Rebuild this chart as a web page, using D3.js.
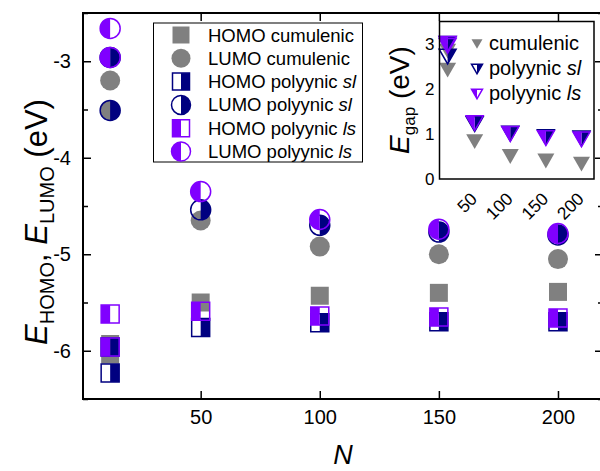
<!DOCTYPE html>
<html>
<head>
<meta charset="utf-8">
<script src="https://cdn.jsdelivr.net/npm/d3@7/dist/d3.min.js"></script>
<style>
  html, body { margin: 0; padding: 0; background: #fff; }
  svg { display: block; font-family: "Liberation Sans", Arial, Helvetica, sans-serif; }
</style>
</head>
<body>
<svg id="chart" width="600" height="471"></svg>
<script>
// Chain length N (the shortest chain has two structures, hence two entries)
const chainN = [12, 12, 50, 100, 150, 200];

// Frontier orbital energies (eV)
const homoCumulenic = [-6.04, -5.93, -5.50, -5.43, -5.40, -5.39];
const lumoCumulenic = [-3.20, -3.51, -4.65, -4.92, -5.00, -5.05];
const homoPolySl    = [-5.96, -6.23, -5.76, -5.71, -5.70, -5.70];
const lumoPolySl    = [-2.96, -3.51, -4.54, -4.70, -4.77, -4.80];
const homoPolyLs    = [-5.62, -5.96, -5.59, -5.64, -5.65, -5.66];
const lumoPolyLs    = [-2.66, -2.96, -4.35, -4.64, -4.74, -4.785];

// Band gaps (eV) for the inset
const gapCumulenic = [2.84, 2.42, 0.83, 0.50, 0.40, 0.33];
const gapPolySl    = [3.00, 2.72, 1.22, 1.01, 0.93, 0.90];
const gapPolyLs    = [2.96, 3.00, 1.24, 1.00, 0.91, 0.88];

// Axis ticks
const xTicks = [50, 100, 150, 200];
const yTicks = [-6, -5, -4, -3];
const yMinorTicks = [-6.5, -5.5, -4.5, -3.5, -2.5];
const insetYTicks = [0, 1, 2, 3];

// Legend labels
const mainLegend = [
  ["HOMO cumulenic", null],
  ["LUMO cumulenic", null],
  ["HOMO polyynic ", "sl"],
  ["LUMO polyynic ", "sl"],
  ["HOMO polyynic ", "ls"],
  ["LUMO polyynic ", "ls"]
];
const insetLegend = [
  ["cumulenic", null],
  ["polyynic ", "sl"],
  ["polyynic ", "ls"]
];

const GRAY = "#808080", NAVY = "#000080", VIOLET = "#8000ff";
const svg = d3.select("#chart");

// ---------- main plot scales ----------
const x = d3.scaleLinear().domain([0.6, 218.9]).range([83, 603]);
const y = d3.scaleLinear().domain([-6.5, -2.5]).range([399, 13]);

// marker painters
function squarePath(cx, cy, s) {
  return `M${cx - s/2},${cy - s/2}h${s}v${s}h${-s}Z`;
}
function halfSquarePath(cx, cy, s, side) {
  return side === "left"
    ? `M${cx - s/2},${cy - s/2}h${s/2}v${s}h${-s/2}Z`
    : `M${cx},${cy - s/2}h${s/2}v${s}h${-s/2}Z`;
}
function circlePath(cx, cy, r) {
  return `M${cx},${cy - r}A${r},${r} 0 1 1 ${cx},${cy + r}A${r},${r} 0 1 1 ${cx},${cy - r}Z`;
}
function halfCirclePath(cx, cy, r, side) {
  const sweep = side === "left" ? 0 : 1;
  return `M${cx},${cy - r}A${r},${r} 0 0 ${sweep} ${cx},${cy + r}Z`;
}
function triPath(cx, cy, w, h) {
  return `M${cx - w/2},${cy - h/2}L${cx + w/2},${cy - h/2}L${cx},${cy + h/2}Z`;
}
function halfTriPath(cx, cy, w, h, side) {
  return side === "left"
    ? `M${cx - w/2},${cy - h/2}L${cx},${cy - h/2}L${cx},${cy + h/2}Z`
    : `M${cx},${cy - h/2}L${cx + w/2},${cy - h/2}L${cx},${cy + h/2}Z`;
}

function drawMarker(g, shape, cx, cy, size, color, half) {
  let full, part;
  if (shape === "square") {
    full = squarePath(cx, cy, size);
    part = half ? halfSquarePath(cx, cy, size, half) : null;
  } else if (shape === "circle") {
    full = circlePath(cx, cy, size / 2);
    part = half ? halfCirclePath(cx, cy, size / 2, half) : null;
  } else {
    full = triPath(cx, cy, size, size * 0.87);
    part = half ? halfTriPath(cx, cy, size, size * 0.87, half) : null;
  }
  if (!half) {
    g.append("path").attr("d", full).attr("fill", color);
  } else {
    g.append("path").attr("d", part).attr("fill", color);
    g.append("path").attr("d", full).attr("fill", "none")
      .attr("stroke", color).attr("stroke-width", 1.5);
  }
}

// ---------- main plot ----------
const plot = svg.append("g");

const mainSeries = [
  { values: lumoCumulenic, shape: "circle", color: GRAY,   half: null },
  { values: homoCumulenic, shape: "square", color: GRAY,   half: null },
  { values: homoPolySl,    shape: "square", color: NAVY,   half: "right" },
  { values: lumoPolySl,    shape: "circle", color: NAVY,   half: "right" },
  { values: homoPolyLs,    shape: "square", color: VIOLET, half: "left" },
  { values: lumoPolyLs,    shape: "circle", color: VIOLET, half: "left" }
];
mainSeries.forEach(s => {
  const g = plot.append("g");
  s.values.forEach((v, i) => {
    drawMarker(g, s.shape, x(chainN[i]), y(v), s.shape === "circle" ? 20 : 18, s.color, s.half);
  });
});

// axes (ticks pointing inward)
const axisStyle = sel => {
  sel.select(".domain").remove();
  sel.selectAll(".tick line").attr("stroke", "#000").attr("stroke-width", 1.5);
  sel.selectAll(".tick text").attr("fill", "#000").attr("font-size", 20)
    .attr("font-family", "\"Liberation Sans\", Arial, sans-serif");
};
svg.append("g").attr("transform", "translate(0,399)")
  .call(d3.axisBottom(x).tickValues(xTicks).tickSize(-8).tickPadding(11).tickFormat(d3.format("d")))
  .call(axisStyle);
svg.append("g").attr("transform", "translate(0,13)")
  .call(d3.axisTop(x).tickValues(xTicks).tickSize(-8).tickFormat(""))
  .call(axisStyle);
svg.append("g").attr("transform", "translate(83,0)")
  .call(d3.axisLeft(y).tickValues(yTicks).tickSize(-8).tickPadding(12).tickFormat(d => String(d)))
  .call(axisStyle);
svg.append("g").attr("transform", "translate(83,0)")
  .call(d3.axisLeft(y).tickValues(yMinorTicks).tickSize(-5).tickFormat(""))
  .call(axisStyle);
svg.append("g").attr("transform", "translate(603,0)")
  .call(d3.axisRight(y).tickValues(yTicks).tickSize(-8).tickFormat(""))
  .call(axisStyle);
svg.append("g").attr("transform", "translate(603,0)")
  .call(d3.axisRight(y).tickValues(yMinorTicks).tickSize(-5).tickFormat(""))
  .call(axisStyle);

// frame
svg.append("rect").attr("x", 83).attr("y", 13).attr("width", 520).attr("height", 386)
  .attr("fill", "none").attr("stroke", "#000").attr("stroke-width", 2);

// axis titles
const yTitle = svg.append("text")
  .attr("transform", "translate(47,222) rotate(-90)")
  .attr("text-anchor", "middle").attr("font-size", 31).attr("fill", "#000");
yTitle.append("tspan").attr("font-style", "italic").text("E");
yTitle.append("tspan").attr("font-size", 20).attr("dy", 7).text("HOMO");
yTitle.append("tspan").attr("dy", -7).text(", ");
yTitle.append("tspan").attr("font-style", "italic").text("E");
yTitle.append("tspan").attr("font-size", 20).attr("dy", 7).text("LUMO");
yTitle.append("tspan").attr("dy", -7).text(" (eV)");

svg.append("text").attr("x", 343).attr("y", 464).attr("text-anchor", "middle")
  .attr("font-size", 27).attr("font-style", "italic").attr("fill", "#000").text("N");

// ---------- main legend ----------
const legend = svg.append("g");
legend.append("rect").attr("x", 153.5).attr("y", 23).attr("width", 209).attr("height", 139)
  .attr("fill", "#fff").attr("stroke", "#000").attr("stroke-width", 1);
const legendStyles = [
  { shape: "square", color: GRAY,   half: null },
  { shape: "circle", color: GRAY,   half: null },
  { shape: "square", color: NAVY,   half: "right" },
  { shape: "circle", color: NAVY,   half: "right" },
  { shape: "square", color: VIOLET, half: "left" },
  { shape: "circle", color: VIOLET, half: "left" }
];
mainLegend.forEach((item, i) => {
  const cy = 35 + i * 23.3;
  const st = legendStyles[i];
  drawMarker(legend, st.shape, 181, cy, st.shape === "circle" ? 19 : 17, st.color, st.half);
  const t = legend.append("text").attr("x", 208).attr("y", cy + 6.5)
    .attr("font-size", 18.5).attr("fill", "#000");
  t.append("tspan").text(item[0]);
  if (item[1]) t.append("tspan").attr("font-style", "italic").text(item[1]);
});

// ---------- inset ----------
const ix = d3.scaleLinear().domain([0.6, 217.6]).range([439.5, 594]);
const iy = d3.scaleLinear().domain([0, 3.5]).range([179, 21.5]);
const inset = svg.append("g");
inset.append("rect").attr("x", 439.5).attr("y", 21.5).attr("width", 154.5).attr("height", 157.5)
  .attr("fill", "#fff");

const insetSeries = [
  { values: gapCumulenic, color: GRAY,   half: null },
  { values: gapPolySl,    color: NAVY,   half: "right" },
  { values: gapPolyLs,    color: VIOLET, half: "left" }
];
insetSeries.forEach(s => {
  const g = inset.append("g");
  s.values.forEach((v, i) => drawMarker(g, "tri", ix(chainN[i]), iy(v), 17, s.color, s.half));
});

inset.append("rect").attr("x", 439.5).attr("y", 21.5).attr("width", 154.5).attr("height", 157.5)
  .attr("fill", "none").attr("stroke", "#000").attr("stroke-width", 1.5);

// inset y tick labels
inset.append("g").attr("transform", "translate(439.5,0)")
  .call(d3.axisLeft(iy).tickValues(insetYTicks).tickSize(0).tickPadding(5).tickFormat(d3.format("d")))
  .call(sel => {
    sel.select(".domain").remove();
    sel.selectAll(".tick text").attr("font-size", 17).attr("fill", "#000")
      .attr("font-family", "\"Liberation Sans\", Arial, sans-serif");
  });

// inset x tick labels, rotated
inset.append("g").selectAll("text").data(xTicks).join("text")
  .attr("transform", d => `translate(${ix(d) + 3.5},200) rotate(-45)`)
  .attr("text-anchor", "end").attr("font-size", 17.5).attr("fill", "#000")
  .text(d => d);

// inset y title
const iTitle = inset.append("text")
  .attr("transform", "translate(409,100) rotate(-90)")
  .attr("text-anchor", "middle").attr("font-size", 28).attr("fill", "#000");
iTitle.append("tspan").attr("font-style", "italic").text("E");
iTitle.append("tspan").attr("font-size", 17).attr("dy", 6).text("gap");
iTitle.append("tspan").attr("dy", -6).text(" (eV)");

// inset legend
const iLegendStyles = [
  { color: GRAY, half: null },
  { color: NAVY, half: "right" },
  { color: VIOLET, half: "left" }
];
insetLegend.forEach((item, i) => {
  const cy = 44 + i * 25;
  const st = iLegendStyles[i];
  drawMarker(inset, "tri", 477, cy, 11, st.color, st.half);
  const t = inset.append("text").attr("x", 489).attr("y", cy + 6)
    .attr("font-size", 20).attr("fill", "#000");
  t.append("tspan").text(item[0]);
  if (item[1]) t.append("tspan").attr("font-style", "italic").text(item[1]);
});
</script>
</body>
</html>
